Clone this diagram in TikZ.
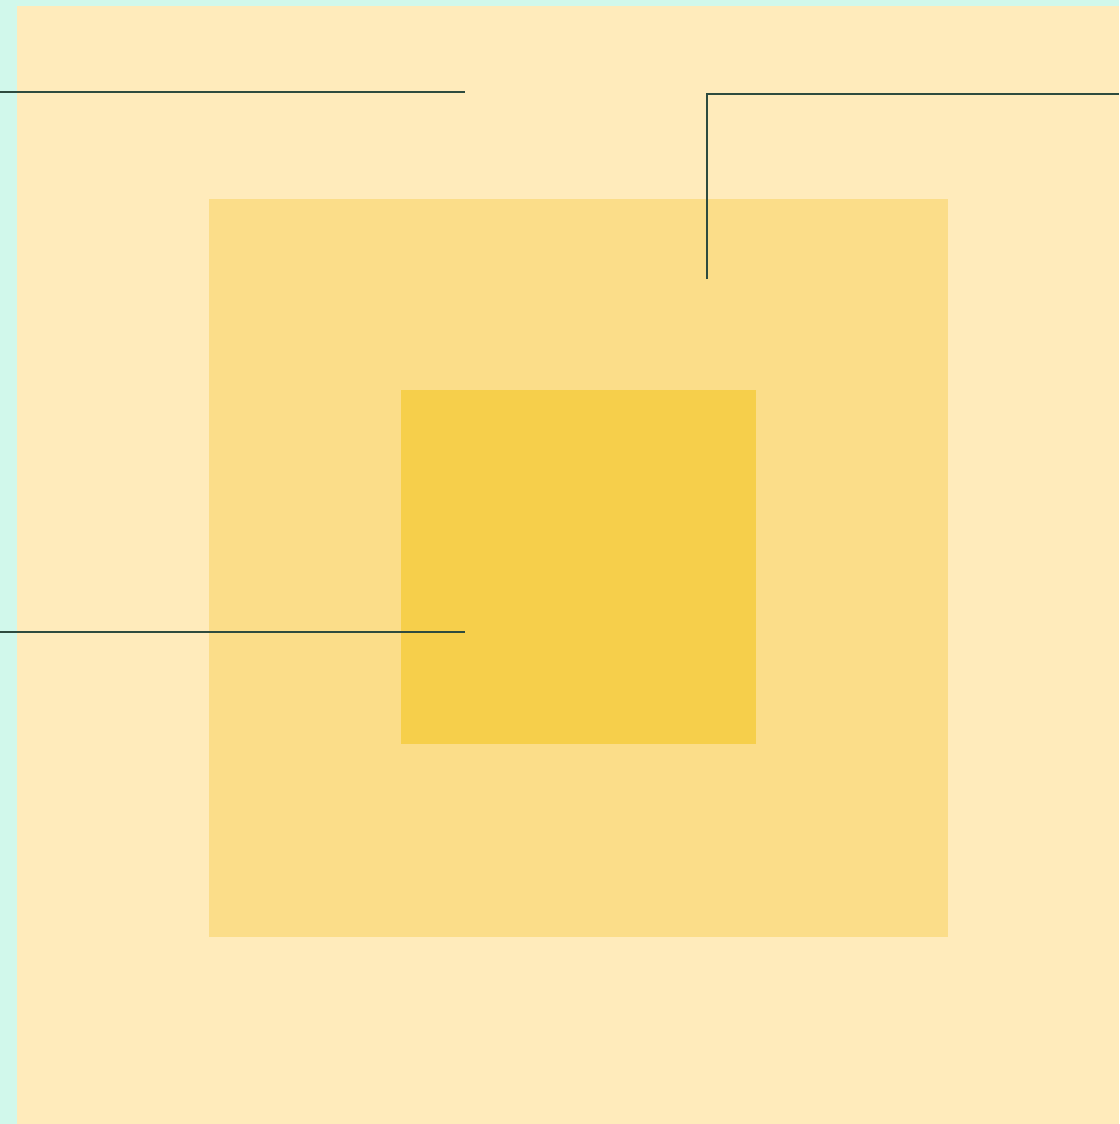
\documentclass[tikz,border=0pt]{standalone}
\definecolor{mint}{HTML}{D1F8EB}
\definecolor{outerc}{HTML}{FFEBBB}
\definecolor{midc}{HTML}{FBDD89}
\definecolor{innerc}{HTML}{F6CF4B}
\definecolor{linec}{HTML}{2E4B3E}
\begin{document}
\begin{tikzpicture}[x=1pt,y=-1pt,
  leader/.style={draw=linec,line width=1.2pt}]
\useasboundingbox (0,0) rectangle (1119,1124);
\fill[mint] (0,0) rectangle (1119,1124);
\fill[outerc] (17,6) rectangle (1119,1124);
\fill[midc] (209,199) rectangle (948,937);
\fill[innerc] (401,390) rectangle (756,744);
\coordinate (a1) at (0,92);
\coordinate (a2) at (465,92);
\coordinate (b1) at (707,279);
\coordinate (b2) at (707,94);
\coordinate (b3) at (1119,94);
\coordinate (c1) at (0,632);
\coordinate (c2) at (465,632);
\draw[leader] (a1) -- (a2);
\draw[leader] (b1) -- (b2) -- (b3);
\draw[leader] (c1) -- (c2);
\end{tikzpicture}
\end{document}
